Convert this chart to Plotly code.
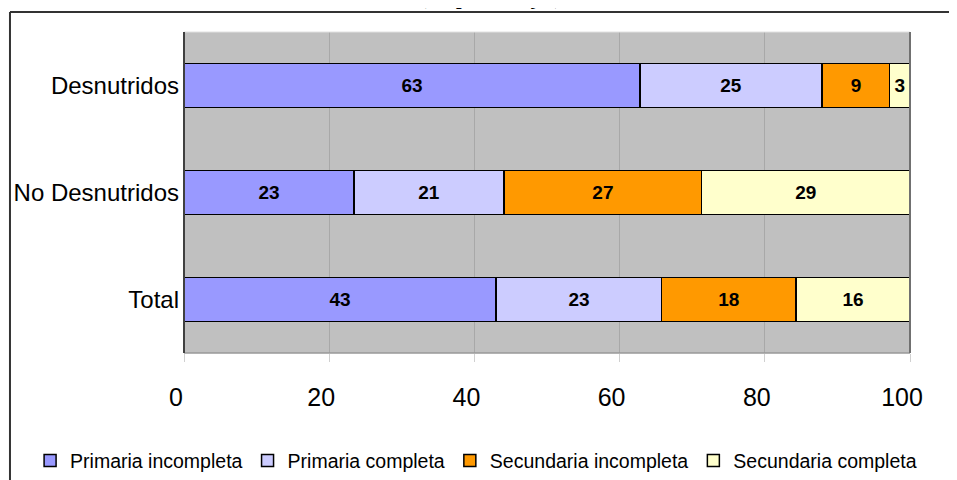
import plotly.graph_objects as go

categories = ["Desnutridos", "No Desnutridos", "Total"]
series_names = ["Primaria incompleta", "Primaria completa", "Secundaria incompleta", "Secundaria completa"]
primaria_incompleta = [62.8, 23.4, 43.0]
primaria_completa = [25.1, 20.7, 22.8]
secundaria_incompleta = [9.3, 27.2, 18.5]
secundaria_completa = [2.8, 28.7, 15.7]
labels_pi = ["63", "23", "43"]
labels_pc = ["25", "21", "23"]
labels_si = ["9", "27", "18"]
labels_sc = ["3", "29", "16"]
x_ticks = [0, 20, 40, 60, 80, 100]
colors = ["#9999FF", "#CCCCFF", "#FF9900", "#FFFFCC"]

values = [primaria_incompleta, primaria_completa, secundaria_incompleta, secundaria_completa]
labels = [labels_pi, labels_pc, labels_si, labels_sc]

sans = "Liberation Sans, Arial, sans-serif"

fig = go.Figure()
for name, vals, lab, col in zip(series_names, values, labels, colors):
    fig.add_trace(go.Bar(
        y=categories, x=vals, name=name, orientation="h",
        marker=dict(color=col, line=dict(color="black", width=1.5)),
        text=lab, textposition="inside", insidetextanchor="middle",
        textangle=0,
        textfont=dict(family=sans, size=19, color="black", weight="bold"),
        width=0.41,
    ))

# the page body adds an 8px offset; the figure is sized/margined so that the
# plot area lands at screen x 184..910, y 32..353
fig.update_layout(
    barmode="stack",
    width=949, height=472,
    margin=dict(l=176, r=47, t=24, b=127, autoexpand=False),
    paper_bgcolor="white",
    plot_bgcolor="#C0C0C0",
    uniformtext=dict(minsize=19, mode="show"),
    showlegend=True,
    legend=dict(orientation="h",
                x=-0.212, xanchor="left", y=-0.336, yanchor="middle",
                font=dict(family=sans, size=19.5, color="black"),
                itemwidth=30, traceorder="normal", bgcolor="rgba(0,0,0,0)"),
    font=dict(family=sans, color="black"),
)

fig.update_xaxes(
    range=[0, 100], tickvals=x_ticks, ticktext=[str(t) for t in x_ticks],
    showgrid=True, gridcolor="#A8A8A8", gridwidth=1,
    ticks="outside", ticklen=8, tickcolor="#D0D0D0",
    tickfont=dict(family=sans, size=25, color="black"),
    ticklabelstandoff=14, ticklabelshift=-8,
    showline=False, zeroline=False, fixedrange=True, automargin=False,
)
fig.update_yaxes(
    categoryorder="array", categoryarray=categories[::-1],
    showgrid=False, ticks="", ticklabelstandoff=4,
    tickfont=dict(family=sans, size=24, color="black"),
    showline=False, zeroline=False, fixedrange=True, automargin=False,
)

# plot area border
fig.add_shape(type="line", xref="paper", yref="paper", x0=0, x1=1, y0=1, y1=1,
              line=dict(color="#E0E0E0", width=1))
fig.add_shape(type="line", xref="paper", yref="paper", x0=0, x1=1, y0=0, y1=0,
              line=dict(color="#999999", width=1.5))
fig.add_shape(type="line", xref="paper", yref="paper", x0=0, x1=0, y0=0, y1=1,
              line=dict(color="#404040", width=2))
fig.add_shape(type="line", xref="paper", yref="paper", x0=1, x1=1, y0=0, y1=1,
              line=dict(color="#707070", width=2))

# outer frame (top and left edges)
fig.add_shape(type="line", xref="paper", yref="paper", x0=-0.2397, x1=1.1, y0=1.0623, y1=1.0623,
              line=dict(color="#333333", width=2))
fig.add_shape(type="line", xref="paper", yref="paper", x0=-0.2397, x1=-0.2397, y0=1.0623, y1=-0.45,
              line=dict(color="#333333", width=2))

# partially cut-off title above frame
fig.add_annotation(text="(En porcentajes)", xref="paper", yref="paper",
                   x=(490 - 184) / 726, y=(353 - 11) / 321, xanchor="center", yanchor="bottom",
                   showarrow=False,
                   font=dict(family="Liberation Serif, Times New Roman, serif", size=20, color="black", weight="bold"))

fig.write_html("out.html")
